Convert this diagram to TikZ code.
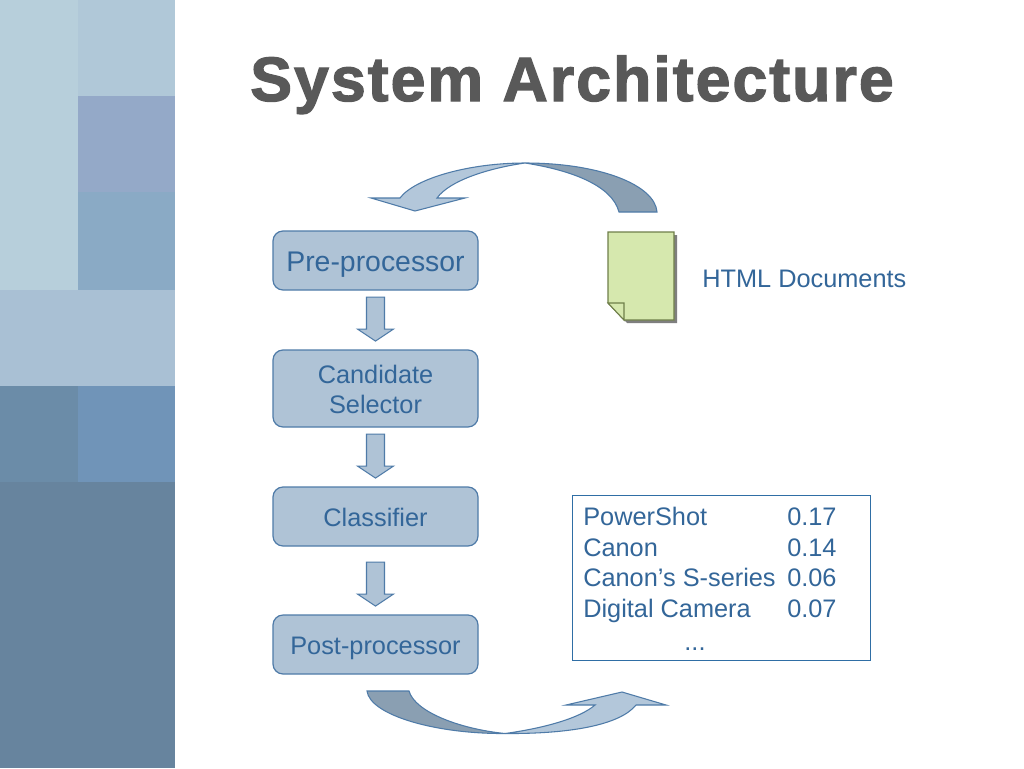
\documentclass[tikz,border=0pt]{standalone}
\usepackage{fontspec}
\setmainfont{Liberation Sans}
\newfontfamily\titlefont[LetterSpace=3.2,FakeBold=2]{Liberation Sans Bold}
\usetikzlibrary{calc}
\definecolor{txtblue}{HTML}{336699}
\definecolor{boxfill}{HTML}{AFC3D6}
\definecolor{boxline}{HTML}{4F7BA8}
\definecolor{tailfill}{HTML}{8A9FB2}
\definecolor{headfill}{HTML}{B3C7DA}
\definecolor{docfill}{HTML}{D6E8AE}
\definecolor{docline}{HTML}{6F7F4A}
\definecolor{docshadow}{HTML}{7F7F7F}
\definecolor{tablebox}{HTML}{2F6EA5}
\definecolor{titlegrey}{HTML}{595959}
\tikzset{
  stage/.style={draw=boxline,fill=boxfill,line width=0.9pt,rounded corners=7.5pt,inner sep=0pt,
    minimum width=153.75pt,align=center,text=txtblue,font=\fontsize{19}{23}\selectfont},
  down/.style={draw=boxline,fill=boxfill,line width=0.8pt,line join=miter},
  tail/.style={draw=boxline,fill=tailfill,line width=0.8pt},
  head/.style={draw=boxline,left color=headfill,right color=headfill,line width=0.8pt},
  label/.style={text=txtblue,inner sep=0pt,font=\fontsize{19}{23}\selectfont},
}
\newcommand{\downarrowbetween}[2]{%
  \path let \p1=(#1.south), \p2=(#2.north) in
    [down] (\x1-6.75pt,\y2+39.25pt) -- (\x1+6.75pt,\y2+39.25pt) -- (\x1+6.75pt,\y2+15.25pt)
    -- (\x1+13.5pt,\y2+15.25pt) -- (\x1,\y2+6.25pt) -- (\x1-13.5pt,\y2+15.25pt)
    -- (\x1-6.75pt,\y2+15.25pt) -- cycle;}
\begin{document}
\begin{tikzpicture}[x=0.75pt,y=-0.75pt]
\useasboundingbox (0,0) rectangle (1024,768);
% sidebar
\fill[fill=white] (0,0) rectangle (1024,768);
\fill[fill={rgb,255:red,183;green,207;blue,219}] (0,0) rectangle (78,290);
\fill[fill={rgb,255:red,176;green,200;blue,216}] (78,0) rectangle (175,96);
\fill[fill={rgb,255:red,148;green,169;blue,200}] (78,96) rectangle (175,192);
\fill[fill={rgb,255:red,138;green,170;blue,197}] (78,192) rectangle (175,290);
\fill[fill={rgb,255:red,169;green,192;blue,212}] (0,290) rectangle (175,386);
\fill[fill={rgb,255:red,107;green,140;blue,168}] (0,386) rectangle (78,482);
\fill[fill={rgb,255:red,112;green,148;blue,184}] (78,386) rectangle (175,482);
\fill[fill={rgb,255:red,103;green,132;blue,158}] (0,482) rectangle (175,768);
% title
\node (title) [anchor=base west,inner sep=0pt,text=titlegrey,font=\titlefont\fontsize{47}{56}\selectfont] at (250,101) {System Architecture};
% stages
\node (pre) [stage,minimum height=44.25pt] at (375.5,260.5) {};
\node (cand) [stage,minimum height=57.75pt] at (375.5,388.5) {};
\node (clas) [stage,minimum height=44.25pt] at (375.5,516.5) {};
\node (post) [stage,minimum height=44.25pt] at (375.5,644.5) {};
\node (pretxt) [label,anchor=base,font=\fontsize{21.3}{25}\selectfont] at (375.5,271) {Pre-processor};
\node (candtxt) [label,anchor=base] at (375.5,383.5) {Candidate};
\node (seltxt) [label,anchor=base] at (375.5,413.5) {Selector};
\node (clastxt) [label,anchor=base] at (375.5,526) {Classifier};
\node (posttxt) [label,anchor=base] at (375.5,654) {Post-processor};
\downarrowbetween{pre}{cand}
\downarrowbetween{cand}{clas}
\downarrowbetween{clas}{post}
% document
\fill[docshadow] (611,235) -- (677,235) -- (677,323) -- (627,323) -- (611,306) -- cycle;
\draw[docline,fill=docfill,line width=0.8pt] (608,232) -- (674,232) -- (674,320) -- (624,320) -- (608,303) -- cycle;
\draw[docline,fill=docfill,line width=0.8pt] (608,303) -- (624,303) -- (624,320) -- cycle;
\node (html) [label,anchor=base west] at (702,287) {HTML Documents};
% result table
\node (results) [draw=tablebox,line width=0.7pt,minimum width=223.5pt,minimum height=123.75pt,inner sep=0pt] at (721,577.5) {};
\node (r1a) [label,anchor=base west] at (583,525.5) {PowerShot};
\node (r1b) [label,anchor=base west] at (787,525.5) {0.17};
\node (r2a) [label,anchor=base west] at (583,556) {Canon};
\node (r2b) [label,anchor=base west] at (787,556) {0.14};
\node (r3a) [label,anchor=base west] at (583,586.5) {Canon’s S-series};
\node (r3b) [label,anchor=base west] at (787,586.5) {0.06};
\node (r4a) [label,anchor=base west] at (583,617) {Digital Camera};
\node (r4b) [label,anchor=base west] at (787,617) {0.07};
\node (r5) [label,anchor=base] at (695,650) {...};
% top curved arrow
\draw[tail] (657,212) .. controls (655,185) and (600,163) .. (525,163)
  .. controls (570,170) and (612,185) .. (619,212) -- cycle;
\draw[head,line join=miter] (525,163) .. controls (470,163) and (415,178) .. (400,198)
  -- (371,198) -- (415,211) -- (465,198) -- (437,198)
  .. controls (450,180) and (490,168) .. (525,163) -- cycle;
% bottom curved arrow
\draw[tail] (367,691) .. controls (370,715) and (435,734) .. (505,733.5)
  .. controls (460,729) and (415,712) .. (409,691) -- cycle;
\draw[head,line join=miter] (505,733.5) .. controls (570,734) and (620,725) .. (636,705)
  -- (666,705) -- (622,692) -- (566,705) -- (595,705)
  .. controls (580,718) and (545,728) .. (505,733.5) -- cycle;
\end{tikzpicture}
\end{document}
